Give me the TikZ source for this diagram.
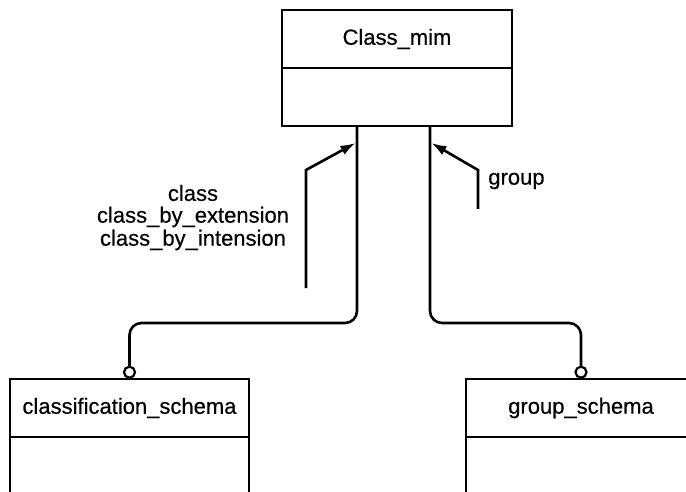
\documentclass[tikz,border=0pt]{standalone}
\usepackage{fontspec}
\setmainfont{Liberation Sans}
\newfontfamily\diagfont{Liberation Sans}[FakeBold=0.4]
\usetikzlibrary{arrows.meta}
\begin{document}
\begin{tikzpicture}[x=1bp,y=-1bp,line width=2.6bp,
  txt/.style={font=\diagfont\fontsize{22bp}{24bp}\selectfont, inner sep=0pt},
  hbox/.style={draw, txt, outer sep=0pt, minimum height=58bp},
  bbox/.style={draw, outer sep=0pt, minimum height=80bp, anchor=north},
  conn/.style={rounded corners=12bp},
  ring/.style={circle, draw, fill=white, inner sep=0pt, outer sep=0pt, minimum size=11bp, line width=2.2bp, anchor=south},
  arr/.style={-{Latex[length=15bp,width=10bp]}}]
\useasboundingbox (0,0) rectangle (686,492);
% top class
\node[hbox, minimum width=230bp] (cmh) at (397,39) {Class\_mim};
\node[bbox, minimum width=230bp, minimum height=58bp] (cmb) at (cmh.south) {};
% bottom left class
\node[hbox, minimum width=239bp] (lh) at (129.5,408) {classification\_schema};
\node[bbox, minimum width=239bp] (lb) at (lh.south) {};
% bottom right class
\node[hbox, minimum width=230bp] (rh) at (581,408) {group\_schema};
\node[bbox, minimum width=230bp] (rb) at (rh.south) {};
% rings
\node[ring] (c1) at ([yshift=1.3bp]lh.north) {};
\node[ring] (c2) at ([yshift=1.3bp]rh.north) {};
% connectors
\draw[conn] ([xshift=-40bp]cmb.south) -- ++(0,197) -| (c1.north);
\draw[conn] ([xshift=33bp]cmb.south) -- ++(0,197) -| (c2.north);
% role arrows
\coordinate (a1s) at (306,288);
\coordinate (a1b) at (306,170);
\coordinate (t1) at (355.5,143);
\coordinate (a2s) at (478,209);
\coordinate (a2b) at (478,170);
\coordinate (t2) at (431.5,143);
\draw[arr] (a1s) -- (a1b) -- (t1);
\draw[arr] (a2s) -- (a2b) -- (t2);
% labels
\node[txt] (l1) at (193,193) {class};
\node[txt] (l2) at (193,217) {class\_by\_extension};
\node[txt] (l3) at (193,240) {class\_by\_intension};
\node[txt, anchor=west] (g1) at (487,181) {group};
\end{tikzpicture}
\end{document}
